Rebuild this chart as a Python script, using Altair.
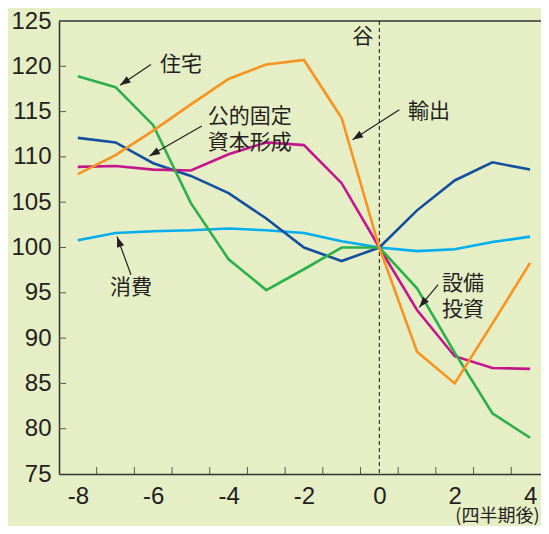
import math
import altair as alt
import pandas as pd

# ---- data (index, trough = 100) ----
quarters = list(range(-8, 5))
housing = [118.9, 117.7, 113.5, 104.9, 98.7, 95.3, 97.6, 100.0, 100.0, 95.5, 88.4, 81.7, 79.0]
exports = [108.1, 110.2, 112.9, 115.8, 118.6, 120.2, 120.7, 114.3, 100.0, 88.5, 85.0, 91.6, 98.3]
public_inv = [112.1, 111.6, 109.3, 107.9, 106.0, 103.2, 100.0, 98.5, 100.0, 104.1, 107.4, 109.4, 108.6]
capex = [108.9, 109.0, 108.6, 108.5, 110.3, 111.6, 111.3, 107.1, 100.0, 93.1, 88.0, 86.7, 86.6]
consumption = [100.8, 101.6, 101.8, 101.9, 102.1, 101.9, 101.6, 100.7, 100.0, 99.6, 99.8, 100.6, 101.2]

series_names = ["消費", "公的固定資本形成", "設備投資", "住宅", "輸出"]
series_values = [consumption, public_inv, capex, housing, exports]
series_colors = ["#00aeef", "#134f9f", "#c4168c", "#2bb04a", "#f7931e"]

x_labels = [-8, -6, -4, -2, 0, 2, 4]
x_ticks = [-7.5, -6.5, -5.5, -4.5, -3.5, -2.5, -1.5, -0.5, 0.5, 1.5, 2.5, 3.5]
y_labels = [75, 80, 85, 90, 95, 100, 105, 110, 115, 120, 125]
y_ticks = [80, 85, 90, 95, 100, 105, 110, 115, 120]

label_text = ["住宅", "公的固定\n資本形成", "輸出", "谷", "消費", "設備\n投資"]
label_t = [-5.26, -3.44, 1.32, -0.44, -6.59, 2.22]
label_v = [120.1, 114.4, 115.0, 123.2, 95.5, 96.0]

arrow_t1 = [-6.06, -4.71, 0.53, -6.59, 1.56]
arrow_v1 = [120.2, 113.4, 115.2, 97.0, 95.9]
arrow_t2 = [-6.88, -6.10, -0.71, -6.96, 1.06]
arrow_v2 = [117.9, 110.1, 111.9, 101.2, 93.4]

# ---- layout ----
W, H = 482, 453
X_DOM = [-8.5, 4.29]
Y_DOM = [75, 125]
PX_X = W / (X_DOM[1] - X_DOM[0])
PX_Y = H / (Y_DOM[1] - Y_DOM[0])
INK = "#231f20"

rows = []
for name, vals in zip(series_names, series_values):
    for t, v in zip(quarters, vals):
        rows.append({"t": t, "v": v, "s": name})
lines_df = pd.DataFrame(rows)

xs = alt.Scale(domain=X_DOM, nice=False, zero=False)
ys = alt.Scale(domain=Y_DOM, nice=False, zero=False)

x_axis = alt.Axis(values=x_labels, ticks=False, grid=False, domain=True,
                  domainColor="#333333", domainWidth=1.5,
                  labelFont="Liberation Sans", labelFontSize=24, labelColor=INK,
                  labelPadding=10, labelFlush=False, labelExpr="'' + datum.value",
                  title="(四半期後)", titleFont="Noto Sans CJK JP", titleFontSize=18,
                  titleFontWeight="normal", titleColor=INK, titleAnchor="end",
                  titleAlign="right", titleBaseline="alphabetic", titleX=480, titleY=47)
y_axis = alt.Axis(values=y_labels, ticks=False, grid=False, domain=True,
                  domainColor="#333333", domainWidth=1.5,
                  labelFont="Liberation Sans", labelFontSize=24, labelColor=INK,
                  labelPadding=8, labelFlush=False, title=None)

lines = alt.Chart(lines_df).mark_line(strokeWidth=2.6).encode(
    x=alt.X("t:Q", scale=xs, axis=x_axis),
    y=alt.Y("v:Q", scale=ys, axis=y_axis),
    color=alt.Color("s:N", scale=alt.Scale(domain=series_names, range=series_colors), legend=None),
    order=alt.Order("t:Q"),
    detail="s:N",
)

top_border = alt.Chart(pd.DataFrame({"v": [125]})).mark_rule(color="#333333", strokeWidth=1.5).encode(
    y=alt.Y("v:Q", scale=ys))

trough = alt.Chart(pd.DataFrame({"t": [0]})).mark_rule(color="#111111", strokeWidth=1, strokeDash=[4, 3]).encode(
    x=alt.X("t:Q", scale=xs))

xt = alt.Chart(pd.DataFrame({"t": x_ticks})).mark_rule(color="#555555", strokeWidth=1).encode(
    x=alt.X("t:Q", scale=xs), y=alt.value(H), y2=alt.value(H - 7))
yt = alt.Chart(pd.DataFrame({"v": y_ticks})).mark_rule(color="#555555", strokeWidth=1).encode(
    y=alt.Y("v:Q", scale=ys), x=alt.value(0), x2=alt.value(7))

labels_df = pd.DataFrame({"t": label_t, "v": label_v, "txt": label_text})
labels = alt.Chart(labels_df).mark_text(font="Noto Sans CJK JP", fontSize=21, color=INK,
                                        align="center", baseline="middle",
                                        lineBreak="\n", lineHeight=26).encode(
    x=alt.X("t:Q", scale=xs), y=alt.Y("v:Q", scale=ys), text="txt:N")

arr = pd.DataFrame({"t1": arrow_t1, "v1": arrow_v1, "t2": arrow_t2, "v2": arrow_v2})
arr["ang"] = [
    (math.degrees(math.atan2((b - a) * PX_X, (d - c) * PX_Y)) + 360) % 360
    for a, b, c, d in zip(arr.t1, arr.t2, arr.v1, arr.v2)
]
arrow_lines = alt.Chart(arr).mark_rule(color=INK, strokeWidth=1.2).encode(
    x=alt.X("t1:Q", scale=xs), x2="t2:Q", y=alt.Y("v1:Q", scale=ys), y2="v2:Q")
arrow_heads = alt.Chart(arr).mark_point(shape="M0,0L0.36,1L-0.36,1Z", filled=True, opacity=1,
                                        color=INK, size=440, strokeWidth=0).encode(
    x=alt.X("t2:Q", scale=xs), y=alt.Y("v2:Q", scale=ys), angle=alt.Angle("ang:Q", scale=None))

chart = alt.layer(top_border, trough, lines, xt, yt, arrow_lines, arrow_heads, labels).properties(
    width=W, height=H,
    autosize=alt.AutoSizeParams(type="none"),
    padding={"left": 51, "top": 13, "right": 0, "bottom": 52},
    background="#e5eec5",
).configure_view(stroke=None)

chart.save("out.html", embed_options={"renderer": "svg", "actions": False})
